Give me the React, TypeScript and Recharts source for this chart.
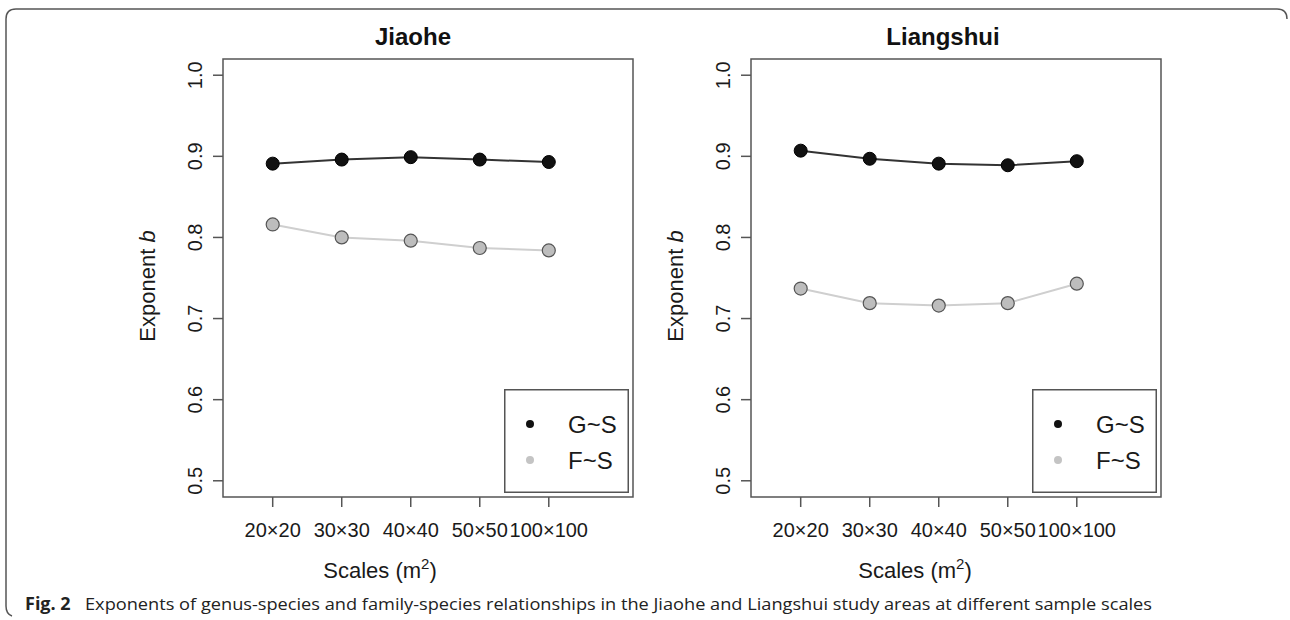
import React from 'react';
import { LineChart, Line, XAxis, YAxis, ReferenceArea, Legend } from 'recharts';

const scales = ['20×20', '30×30', '40×40', '50×50', '100×100'];
const jiaoheGS = [0.891, 0.896, 0.899, 0.896, 0.893];
const jiaoheFS = [0.816, 0.8, 0.796, 0.787, 0.784];
const liangshuiGS = [0.907, 0.897, 0.891, 0.889, 0.894];
const liangshuiFS = [0.737, 0.719, 0.716, 0.719, 0.743];
const yTicks = [0.5, 0.6, 0.7, 0.8, 0.9, 1.0];
const seriesNames = ['G~S', 'F~S'];
const panelTitles = ['Jiaohe', 'Liangshui'];
const caption =
  'Exponents of genus-species and family-species relationships in the Jiaohe and Liangshui study areas at different sample scales';

const xIndex = scales.map((_, i) => i + 1);
const X_DOMAIN = [0.28, 6.22];
const Y_DOMAIN = [0.48, 1.02];

const FONT = '"Liberation Sans", Arial, Helvetica, sans-serif';
const CAPTION_FONT = '"Open Sans", "Noto Sans", sans-serif';
const AXIS_COLOR = '#555';
const TEXT_COLOR = '#1a1a1a';

const buildData = (gs: number[], fs: number[]) =>
  scales.map((label, i) => ({ x: xIndex[i], label, gs: gs[i], fs: fs[i] }));

const XTick = (props: any) => {
  const { x, y, payload } = props;
  return (
    <text x={x} y={y} dy="0.71em" textAnchor="middle" fontSize={20} fontFamily={FONT} fill={TEXT_COLOR}>
      {scales[payload.value - 1]}
    </text>
  );
};

const YTick = (props: any) => {
  const { x, y, payload } = props;
  return (
    <text
      x={x}
      y={y}
      transform={`rotate(-90 ${x} ${y})`}
      textAnchor="middle"
      fontSize={20}
      fontFamily={FONT}
      fill={TEXT_COLOR}
    >
      {Number(payload.value).toFixed(1)}
    </text>
  );
};

const LegendBox = () => (
  <svg width={125} height={104} style={{ display: 'block' }}>
    <rect x={0.75} y={0.75} width={123.5} height={102.5} fill="#fff" stroke={AXIS_COLOR} strokeWidth={1.5} />
    <circle cx={26} cy={35} r={4} fill="#111" />
    <circle cx={26} cy={71} r={4} fill="#c4c4c4" />
    <text x={64} y={35} dy="0.36em" fontSize={24} fontFamily={FONT} fill={TEXT_COLOR}>
      {seriesNames[0]}
    </text>
    <text x={64} y={71} dy="0.36em" fontSize={24} fontFamily={FONT} fill={TEXT_COLOR}>
      {seriesNames[1]}
    </text>
  </svg>
);

const Panel = ({ gs, fs, left }: { gs: number[]; fs: number[]; left: number }) => {
  const data = buildData(gs, fs);
  return (
    <div style={{ position: 'absolute', left, top: 0 }}>
      <LineChart width={660} height={620} data={data} margin={{ top: 59, left: 143, right: 27, bottom: 43 }}>
        <XAxis
          dataKey="x"
          type="number"
          domain={X_DOMAIN}
          ticks={xIndex}
          allowDataOverflow
          height={80}
          axisLine={false}
          tickSize={10}
          tickMargin={16}
          tickLine={{ stroke: AXIS_COLOR, strokeWidth: 1.5 }}
          tick={<XTick />}
          interval={0}
        />
        <YAxis
          type="number"
          domain={Y_DOMAIN}
          ticks={yTicks}
          allowDataOverflow
          width={80}
          axisLine={false}
          tickSize={10}
          tickMargin={11}
          tickLine={{ stroke: AXIS_COLOR, strokeWidth: 1.5 }}
          tick={<YTick />}
          interval={0}
        />
        <ReferenceArea
          x1={X_DOMAIN[0]}
          x2={X_DOMAIN[1]}
          y1={Y_DOMAIN[0]}
          y2={Y_DOMAIN[1]}
          fill="none"
          fillOpacity={0}
          stroke={AXIS_COLOR}
          strokeWidth={1.5}
          ifOverflow="visible"
        />
        <Line
          type="linear"
          dataKey="gs"
          name={seriesNames[0]}
          stroke="#333"
          strokeWidth={2}
          dot={{ r: 6.5, fill: '#111', stroke: '#000', strokeWidth: 1 }}
          isAnimationActive={false}
        />
        <Line
          type="linear"
          dataKey="fs"
          name={seriesNames[1]}
          stroke="#cfcfcf"
          strokeWidth={2}
          dot={{ r: 6.5, fill: '#bdbdbd', stroke: '#555', strokeWidth: 1.2 }}
          isAnimationActive={false}
        />
        <Legend
          layout="horizontal"
          verticalAlign="middle"
          align="center"
          content={() => <LegendBox />}
          wrapperStyle={{ left: 504, top: 389, width: 125, height: 104 }}
        />
      </LineChart>
    </div>
  );
};

const Overlay = () => (
  <svg
    width={1290}
    height={620}
    style={{ position: 'absolute', left: 0, top: 0, pointerEvents: 'none' }}
  >
    <path
      d="M 1287 19 Q 1287 9 1277 9 L 16 9 Q 6 9 6 19 L 6 606 Q 6 614 12 616"
      fill="none"
      stroke="#555"
      strokeWidth={1.5}
    />
    {[413, 943].map((cx, i) => (
      <text key={'t' + i} x={cx} y={45} textAnchor="middle" fontSize={24} fontWeight="bold" fontFamily={FONT} fill="#111">
        {panelTitles[i]}
      </text>
    ))}
    {[155, 683].map((bx, i) => (
      <text
        key={'y' + i}
        transform={`translate(${bx},286) rotate(-90)`}
        textAnchor="middle"
        fontSize={22}
        fontFamily={FONT}
        fill={TEXT_COLOR}
      >
        Exponent <tspan fontStyle="italic">b</tspan>
      </text>
    ))}
    {[380, 915].map((cx, i) => (
      <text key={'x' + i} x={cx} y={578} textAnchor="middle" fontSize={22} fontFamily={FONT} fill={TEXT_COLOR}>
        Scales (m<tspan dy={-9} fontSize={15}>2</tspan>
        <tspan dy={9}>)</tspan>
      </text>
    ))}
    <text x={25} y={610} fontSize={18} fontWeight="bold" fontFamily={CAPTION_FONT} fill="#222">
      Fig. 2
    </text>
    <text
      x={85}
      y={610}
      fontSize={17}
      fontFamily={CAPTION_FONT}
      fill="#222"
      textLength={1067}
      lengthAdjust="spacingAndGlyphs"
    >
      {caption}
    </text>
  </svg>
);

export default function App() {
  return (
    <div style={{ position: 'absolute', left: 0, top: 0, width: 1290, height: 620, background: '#fff', overflow: 'hidden' }}>
      <Panel gs={jiaoheGS} fs={jiaoheFS} left={0} />
      <Panel gs={liangshuiGS} fs={liangshuiFS} left={528} />
      <Overlay />
    </div>
  );
}
